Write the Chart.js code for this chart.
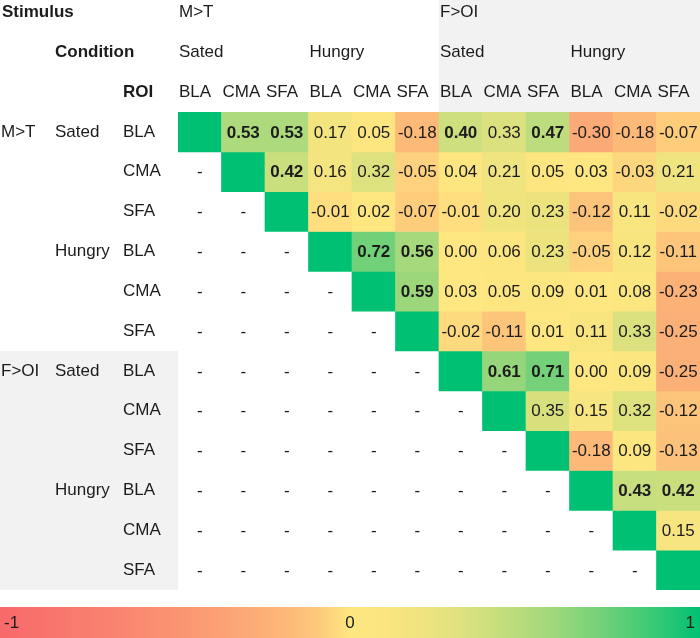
<!DOCTYPE html>
<html>
<head>
<meta charset="utf-8">
<script src="https://cdn.jsdelivr.net/npm/chart.js@4"></script>
<style>
  body { margin: 0; background: #fff; }
  canvas { display: block; }
</style>
</head>
<body>
<canvas id="chart" width="700" height="638"></canvas>
<script>
// column / row keys (same order both ways)
const stimuli = ['M>T', 'M>T', 'M>T', 'M>T', 'M>T', 'M>T', 'F>OI', 'F>OI', 'F>OI', 'F>OI', 'F>OI', 'F>OI'];
const conditions = ['Sated', 'Sated', 'Sated', 'Hungry', 'Hungry', 'Hungry', 'Sated', 'Sated', 'Sated', 'Hungry', 'Hungry', 'Hungry'];
const rois = ['BLA', 'CMA', 'SFA', 'BLA', 'CMA', 'SFA', 'BLA', 'CMA', 'SFA', 'BLA', 'CMA', 'SFA'];

// correlation values, null = lower triangle ("-")
const row0 = [1, 0.53, 0.53, 0.17, 0.05, -0.18, 0.40, 0.33, 0.47, -0.30, -0.18, -0.07];
const row1 = [null, 1, 0.42, 0.16, 0.32, -0.05, 0.04, 0.21, 0.05, 0.03, -0.03, 0.21];
const row2 = [null, null, 1, -0.01, 0.02, -0.07, -0.01, 0.20, 0.23, -0.12, 0.11, -0.02];
const row3 = [null, null, null, 1, 0.72, 0.56, 0.00, 0.06, 0.23, -0.05, 0.12, -0.11];
const row4 = [null, null, null, null, 1, 0.59, 0.03, 0.05, 0.09, 0.01, 0.08, -0.23];
const row5 = [null, null, null, null, null, 1, -0.02, -0.11, 0.01, 0.11, 0.33, -0.25];
const row6 = [null, null, null, null, null, null, 1, 0.61, 0.71, 0.00, 0.09, -0.25];
const row7 = [null, null, null, null, null, null, null, 1, 0.35, 0.15, 0.32, -0.12];
const row8 = [null, null, null, null, null, null, null, null, 1, -0.18, 0.09, -0.13];
const row9 = [null, null, null, null, null, null, null, null, null, 1, 0.43, 0.42];
const row10 = [null, null, null, null, null, null, null, null, null, null, 1, 0.15];
const row11 = [null, null, null, null, null, null, null, null, null, null, null, 1];
const rows = [row0, row1, row2, row3, row4, row5, row6, row7, row8, row9, row10, row11];

// cells printed in bold [row, col]
const boldCells = [[0, 1], [0, 2], [0, 6], [0, 8], [1, 2], [3, 4], [3, 5], [4, 5], [6, 7], [6, 8], [9, 10], [9, 11]];

const scaleTicks = ['-1', '0', '1'];

const RED = [248, 105, 107], YELLOW = [254, 230, 128], GREEN = [0, 192, 115];

// yellow -> red gets orange quickly, yellow -> green stays yellowish longer
function colorFor(v) {
    const b = v < 0 ? RED : GREEN;
    const t = v < 0 ? Math.pow(Math.min(1, -v), 0.6) : Math.pow(Math.min(1, v), 1.8);
    const c = YELLOW.map((x, k) => Math.round(x + (b[k] - x) * t));
    return 'rgb(' + c.join(',') + ')';
}

const FONT = '"Liberation Sans", Arial, sans-serif';
const TEXT = '#1c1c1c';
const GRAY = '#f2f2f2';

const tablePlugin = {
    id: 'table',
    beforeDatasetsDraw(chart) {
        const ctx = chart.ctx, x = chart.scales.x, y = chart.scales.y;
        const cw = x.width / rois.length;
        const left6 = x.getPixelForValue(6) - cw / 2;
        ctx.save();
        ctx.fillStyle = GRAY;
        ctx.fillRect(left6, 0, chart.width - left6, chart.chartArea.top);
        const top6 = y.getPixelForValue(6);
        ctx.fillRect(0, top6, chart.chartArea.left, y.getPixelForValue(12) - top6);
        ctx.restore();
    },
    afterDatasetsDraw(chart) {
        const ctx = chart.ctx, x = chart.scales.x, y = chart.scales.y;
        const cw = x.width / rois.length;
        ctx.save();
        ctx.fillStyle = TEXT;
        ctx.textBaseline = 'middle';

        // column headers
        const hy = [y.getPixelForValue(-2.5), y.getPixelForValue(-1.5), y.getPixelForValue(-0.5)];
        ctx.textAlign = 'left';
        ctx.font = 'bold 17px ' + FONT;
        ctx.fillText('Stimulus', 2, hy[0]);
        ctx.fillText('Condition', 55, hy[1]);
        ctx.fillText('ROI', 123, hy[2]);
        ctx.font = '17px ' + FONT;
        rois.forEach((r, j) => {
            const lx = x.getPixelForValue(j) - cw / 2 + 1;
            if (j === 0 || stimuli[j] !== stimuli[j - 1]) ctx.fillText(stimuli[j], lx, hy[0]);
            if (j === 0 || conditions[j] !== conditions[j - 1]) ctx.fillText(conditions[j], lx, hy[1]);
            ctx.fillText(r, lx, hy[2]);
        });

        // row headers
        rois.forEach((r, i) => {
            const ry = y.getPixelForValue(i + 0.5);
            if (i === 0 || stimuli[i] !== stimuli[i - 1]) ctx.fillText(stimuli[i], 1, ry);
            if (i === 0 || conditions[i] !== conditions[i - 1]) ctx.fillText(conditions[i], 55, ry);
            ctx.fillText(r, 123, ry);
        });

        // cell values
        ctx.textAlign = 'center';
        rows.forEach((vals, i) => {
            const ry = y.getPixelForValue(i + 0.5) + 1;
            vals.forEach((v, j) => {
                if (i === j) return;
                const cx = x.getPixelForValue(j);
                const bold = boldCells.some(c => c[0] === i && c[1] === j);
                ctx.font = (bold ? 'bold ' : '') + '17px ' + FONT;
                ctx.fillText(v === null ? '-' : v.toFixed(2), cx, ry);
            });
        });

        // colour scale bar
        const barTop = chart.chartArea.bottom + 17;
        const grad = ctx.createLinearGradient(0, 0, chart.width, 0);
        for (let s = 0; s <= 20; s++) grad.addColorStop(s / 20, colorFor(s / 10 - 1));
        ctx.fillStyle = grad;
        ctx.fillRect(0, barTop, chart.width, chart.height - barTop);
        ctx.fillStyle = TEXT;
        ctx.font = '17px ' + FONT;
        const ty = barTop + 16;
        ctx.textAlign = 'left';
        ctx.fillText(scaleTicks[0], 4, ty);
        ctx.textAlign = 'center';
        ctx.fillText(scaleTicks[1], chart.width / 2, ty);
        ctx.textAlign = 'right';
        ctx.fillText(scaleTicks[2], chart.width - 5, ty);
        ctx.restore();
    }
};

const datasets = rows.map((vals, i) => ({
    label: stimuli[i] + ' ' + conditions[i] + ' ' + rois[i],
    data: vals.map(v => v === null ? null : [i, i + 1]),
    backgroundColor: vals.map(v => v === null ? 'rgba(0,0,0,0)' : colorFor(v)),
    borderWidth: 0,
    borderSkipped: false,
    barPercentage: 1,
    categoryPercentage: 1,
    grouped: false
}));

const chart = new Chart(document.getElementById('chart'), {
    type: 'bar',
    data: {
        labels: rois.map((r, j) => stimuli[j] + ' ' + conditions[j] + ' ' + r),
        datasets: datasets
    },
    options: {
        responsive: false,
        animation: false,
        layout: { padding: { left: 178, top: 112, right: 0, bottom: 48 } },
        plugins: { legend: { display: false }, tooltip: { enabled: false } },
        scales: {
            x: { display: false, offset: true, grid: { display: false } },
            y: { display: false, min: 0, max: 12, reverse: true, grid: { display: false } }
        }
    },
    plugins: [tablePlugin]
});
</script>
</body>
</html>
